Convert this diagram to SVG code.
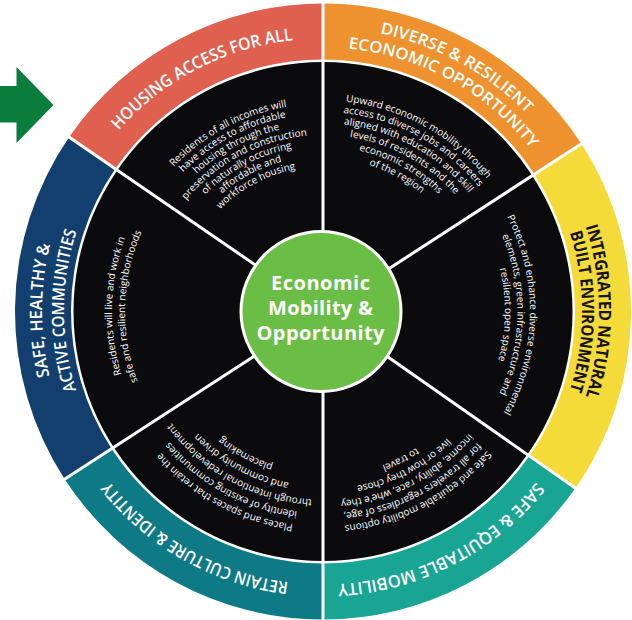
<svg xmlns="http://www.w3.org/2000/svg" width="632" height="620" viewBox="0 0 632 620">
  <style>
    .seg-label { font-family: 'Open Sans', 'Liberation Sans', sans-serif; font-weight: 600; fill: #ffffff; }
    .seg-label.dark { fill: #141414; font-weight: 700; }
    .desc { font-family: 'Open Sans', 'Liberation Sans', sans-serif; font-size: 10px; font-weight: 500; fill: #ffffff; }
    .core { font-family: 'Open Sans', 'Liberation Sans', sans-serif; font-size: 20px; font-weight: 700; fill: #ffffff; }
    .divider { stroke: #ffffff; stroke-width: 3; }
  </style>
  <defs>
    <!-- clockwise arcs centred on the top of the wheel, one per text radius -->
    <path id="r284" d="M-282.92,-24.76 A284,284 0 0 1 282.92,-24.76"/>
    <path id="r281" d="M-279.93,-24.5 A281,281 0 0 1 279.93,-24.5"/>
    <path id="r276" d="M-274.95,-24.07 A276,276 0 0 1 274.95,-24.07"/>
    <path id="r273" d="M-271.96,-23.81 A273,273 0 0 1 271.96,-23.81"/>
    <path id="r264" d="M-263,-23.02 A264,264 0 0 1 263,-23.02"/>
    <path id="r259" d="M-258.02,-22.58 A259,259 0 0 1 258.02,-22.58"/>
    <path id="r215" d="M-214.18,-18.75 A215,215 0 0 1 214.18,-18.75"/>
    <path id="r211" d="M-210.2,-18.4 A211,211 0 0 1 210.2,-18.4"/>
    <path id="r208" d="M-207.21,-18.14 A208,208 0 0 1 207.21,-18.14"/>
    <path id="r207" d="M-206.21,-18.05 A207,207 0 0 1 206.21,-18.05"/>
    <path id="r202_5" d="M-201.73,-17.66 A202.5,202.5 0 0 1 201.73,-17.66"/>
    <path id="r201_5" d="M-200.73,-17.57 A201.5,201.5 0 0 1 200.73,-17.57"/>
    <path id="r199_5" d="M-198.74,-17.4 A199.5,199.5 0 0 1 198.74,-17.4"/>
    <path id="r198" d="M-197.25,-17.27 A198,198 0 0 1 197.25,-17.27"/>
    <path id="r197_5" d="M-196.75,-17.22 A197.5,197.5 0 0 1 196.75,-17.22"/>
    <path id="r194_5" d="M-193.76,-16.96 A194.5,194.5 0 0 1 193.76,-16.96"/>
    <path id="r190" d="M-189.28,-16.57 A190,190 0 0 1 189.28,-16.57"/>
    <path id="r188" d="M-187.29,-16.39 A188,188 0 0 1 187.29,-16.39"/>
    <path id="r187" d="M-186.29,-16.31 A187,187 0 0 1 186.29,-16.31"/>
    <path id="r182" d="M-181.31,-15.87 A182,182 0 0 1 181.31,-15.87"/>
    <path id="r177_5" d="M-176.83,-15.48 A177.5,177.5 0 0 1 176.83,-15.48"/>
    <path id="r176_5" d="M-175.83,-15.39 A176.5,176.5 0 0 1 175.83,-15.39"/>
    <path id="r174_5" d="M-173.84,-15.22 A174.5,174.5 0 0 1 173.84,-15.22"/>
    <path id="r166" d="M-165.37,-14.48 A166,166 0 0 1 165.37,-14.48"/>
    <path id="r165" d="M-164.37,-14.39 A165,165 0 0 1 164.37,-14.39"/>
    <path id="r161" d="M-160.39,-14.04 A161,161 0 0 1 160.39,-14.04"/>
    <path id="r155_5" d="M-154.91,-13.56 A155.5,155.5 0 0 1 154.91,-13.56"/>
    <path id="r153_5" d="M-152.92,-13.39 A153.5,153.5 0 0 1 152.92,-13.39"/>
    <path id="r145" d="M-144.45,-12.64 A145,145 0 0 1 144.45,-12.64"/>
  </defs>

  <!-- pointer arrow -->
  <g id="pointer">
    <polygon fill="#0A7D3D" points="0,86 16.5,86 16.5,67 53.5,105 16.5,143 16.5,122.5 0,122.5"/>
  </g>

  <!-- dark inner disc behind the six themes -->
  <g id="disc">
    <circle cx="323" cy="311.5" r="249.5" fill="#0B0B0E"/>
  </g>

  <g id="housing-access">
    <path fill="#E0604F" d="M69.2,137 A308,308 0 0 1 323,3.5 L323,59.5 A252,252 0 0 0 115.3,168.8 Z"/>
    <g transform="translate(323 311.5) rotate(-27.4)">
      <text class="seg-label" font-size="17" text-anchor="middle"><textPath href="#r273" startOffset="50%" textLength="201" lengthAdjust="spacingAndGlyphs">HOUSING ACCESS FOR ALL</textPath></text>
    </g>
    <g class="desc" transform="translate(323 311.5) rotate(-28)" text-anchor="middle">
      <text><textPath href="#r208" startOffset="50%">Residents of all incomes will</textPath></text>
      <text><textPath href="#r197_5" startOffset="50%">have access to affordable</textPath></text>
      <text><textPath href="#r187" startOffset="50%">housing through the</textPath></text>
      <text><textPath href="#r176_5" startOffset="50%">preservation and construction</textPath></text>
      <text><textPath href="#r166" startOffset="50%">of naturally occurring</textPath></text>
      <text><textPath href="#r155_5" startOffset="50%">affordable and</textPath></text>
      <text><textPath href="#r145" startOffset="50%">workforce housing</textPath></text>
    </g>
  </g>

  <g id="economic-opportunity">
    <path fill="#EE9230" d="M323,3.5 A308,308 0 0 1 581.3,143.8 L534.4,174.3 A252,252 0 0 0 323,59.5 Z"/>
    <g transform="translate(323 311.5) rotate(28.7)" text-anchor="middle">
      <text class="seg-label" font-size="16"><textPath href="#r284" startOffset="50%" textLength="170" lengthAdjust="spacingAndGlyphs">DIVERSE &amp; RESILIENT</textPath></text>
      <text class="seg-label" font-size="16"><textPath href="#r264" startOffset="50%" textLength="214" lengthAdjust="spacingAndGlyphs">ECONOMIC OPPORTUNITY</textPath></text>
    </g>
    <g class="desc" transform="translate(323 311.5) rotate(28.6)" text-anchor="middle">
      <text><textPath href="#r211" startOffset="50%">Upward economic mobility through</textPath></text>
      <text><textPath href="#r199_5" startOffset="50%">access to diverse jobs and careers</textPath></text>
      <text><textPath href="#r188" startOffset="50%">aligned with education and skill</textPath></text>
      <text><textPath href="#r176_5" startOffset="50%">levels of residents and the</textPath></text>
      <text><textPath href="#r165" startOffset="50%">economic strengths</textPath></text>
      <text><textPath href="#r153_5" startOffset="50%">of the region</textPath></text>
    </g>
  </g>

  <g id="natural-environment">
    <path fill="#F5DB3A" d="M581.3,143.8 A308,308 0 0 1 575.3,488.2 L529.4,456 A252,252 0 0 0 534.4,174.3 Z"/>
    <g transform="translate(323 311.5) rotate(90)" text-anchor="middle">
      <text class="seg-label dark" font-size="17"><textPath href="#r276" startOffset="50%" textLength="173" lengthAdjust="spacingAndGlyphs">INTEGRATED NATURAL</textPath></text>
      <text class="seg-label dark" font-size="17"><textPath href="#r259" startOffset="50%" textLength="160" lengthAdjust="spacingAndGlyphs">BUILT ENVIRONMENT</textPath></text>
    </g>
    <g class="desc" transform="translate(323 311.5) rotate(91)" text-anchor="middle">
      <text><textPath href="#r207" startOffset="50%">Protect and enhance diverse environmental</textPath></text>
      <text><textPath href="#r194_5" startOffset="50%">elements, green infrastructure and</textPath></text>
      <text><textPath href="#r182" startOffset="50%">resilient open space</textPath></text>
    </g>
  </g>

  <g id="equitable-mobility">
    <path fill="#18A593" d="M575.3,488.2 A308,308 0 0 1 323,619.5 L323,563.5 A252,252 0 0 0 529.4,456 Z"/>
    <g transform="translate(323 311.5) rotate(152.8)">
      <text class="seg-label" font-size="17" text-anchor="middle"><textPath href="#r273" startOffset="50%" textLength="230" lengthAdjust="spacingAndGlyphs">SAFE &amp; EQUITABLE MOBILITY</textPath></text>
    </g>
    <g class="desc" transform="translate(323 311.5) rotate(152.3)" text-anchor="middle">
      <text><textPath href="#r215" startOffset="50%">Safe and equitable mobility options</textPath></text>
      <text><textPath href="#r202_5" startOffset="50%">for all travelers regardless of age,</textPath></text>
      <text><textPath href="#r190" startOffset="50%">income, ability, race, whe'e they</textPath></text>
      <text><textPath href="#r177_5" startOffset="50%">live or how they chose</textPath></text>
      <text><textPath href="#r165" startOffset="50%">to travel</textPath></text>
    </g>
  </g>

  <g id="culture-identity">
    <path fill="#0D7A86" d="M323,619.5 A308,308 0 0 1 64.7,479.2 L111.6,448.7 A252,252 0 0 0 323,563.5 Z"/>
    <g transform="translate(323 311.5) rotate(209.4)">
      <text class="seg-label" font-size="17" text-anchor="middle"><textPath href="#r273" startOffset="50%" textLength="211" lengthAdjust="spacingAndGlyphs">RETAIN CULTURE &amp; IDENTITY</textPath></text>
    </g>
    <g class="desc" transform="translate(323 311.5) rotate(208.5)" text-anchor="middle">
      <text><textPath href="#r215" startOffset="50%">Places and spaces that retain the</textPath></text>
      <text><textPath href="#r201_5" startOffset="50%">identity of existing communities</textPath></text>
      <text><textPath href="#r188" startOffset="50%">through intentional redevelopment</textPath></text>
      <text><textPath href="#r174_5" startOffset="50%">and community driven</textPath></text>
      <text><textPath href="#r161" startOffset="50%">placemaking</textPath></text>
    </g>
  </g>

  <g id="healthy-communities">
    <path fill="#123F6D" d="M64.7,479.2 A308,308 0 0 1 69.2,137 L115.3,168.8 A252,252 0 0 0 111.6,448.7 Z"/>
    <g transform="translate(323 311.5) rotate(270.2)" text-anchor="middle">
      <text class="seg-label" font-size="17"><textPath href="#r281" startOffset="50%" textLength="133" lengthAdjust="spacingAndGlyphs">SAFE, HEALTHY &amp;</textPath></text>
      <text class="seg-label" font-size="17"><textPath href="#r259" startOffset="50%" textLength="162" lengthAdjust="spacingAndGlyphs">ACTIVE COMMUNITIES</textPath></text>
    </g>
    <g class="desc" transform="translate(323 311.5) rotate(271.5)" text-anchor="middle">
      <text><textPath href="#r211" startOffset="50%">Residents will live and work in</textPath></text>
      <text><textPath href="#r198" startOffset="50%">safe and resilient neighborhoods</textPath></text>
    </g>
  </g>

  <!-- white spokes separating the themes -->
  <g id="connectors" class="divider">
    <line x1="323" y1="311.5" x2="323" y2="0"/>
    <line x1="323" y1="311.5" x2="583" y2="142.7"/>
    <line x1="323" y1="311.5" x2="577" y2="489.3"/>
    <line x1="323" y1="311.5" x2="323" y2="622"/>
    <line x1="323" y1="311.5" x2="63" y2="480.3"/>
    <line x1="323" y1="311.5" x2="67.5" y2="135.9"/>
  </g>

  <g id="core">
    <circle cx="321" cy="311.5" r="80" fill="#6BBE45" stroke="#ffffff" stroke-width="3"/>
    <text class="core" x="320.5" y="290" text-anchor="middle" textLength="99">Economic</text>
    <text class="core" x="320.5" y="315" text-anchor="middle" textLength="105">Mobility &amp;</text>
    <text class="core" x="320.5" y="340" text-anchor="middle" textLength="128">Opportunity</text>
  </g>
</svg>
